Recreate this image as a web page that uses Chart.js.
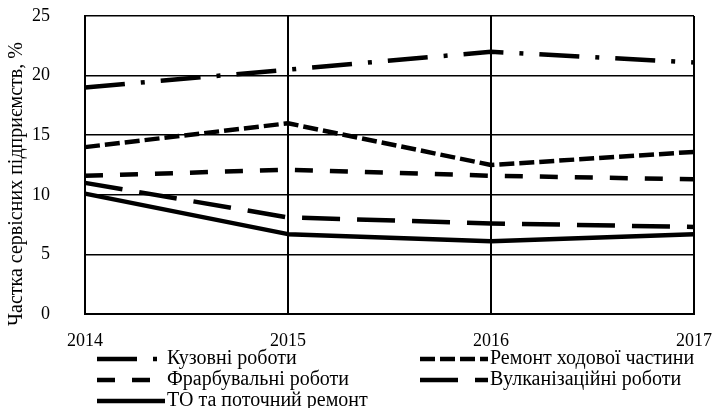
<!DOCTYPE html>
<html>
<head>
<meta charset="utf-8">
<script src="https://cdn.jsdelivr.net/npm/chart.js@4.4.0/dist/chart.umd.min.js"></script>
<style>
    html, body { margin: 0; padding: 0; background: #fff; }
    #wrap { width: 715px; height: 408px; position: relative; }
</style>
</head>
<body>
<div id="wrap"><canvas id="servicesChart"></canvas></div>
<script>
const years = ['2014', '2015', '2016', '2017'];
const yTicks = [0, 5, 10, 15, 20, 25];

const bodyWork = [19, 20.5, 22, 21.1];
const chassisRepair = [14, 16, 12.5, 13.6];
const paintWork = [11.6, 12.1, 11.6, 11.3];
const tyreWork = [11, 8.1, 7.6, 7.3];
const maintenance = [10.1, 6.7, 6.1, 6.7];

const seriesNames = [
    'Кузовні роботи',
    'Ремонт ходової частини',
    'Фрарбувальні роботи',
    'Вулканізаційні роботи',
    'ТО та поточний ремонт'
];
const yTitle = 'Частка сервісних підприємств, %';

const FONT = '"Liberation Serif", "Times New Roman", serif';

function lineSet(label, data, dash) {
    return {
        label: label,
        data: data,
        borderColor: '#000',
        borderWidth: 4.5,
        borderDash: dash,
        borderCapStyle: 'butt',
        borderJoinStyle: 'round',
        pointRadius: 0,
        fill: false,
        tension: 0
    };
}

// legend in two columns + rotated axis title, drawn by hand
const legendPlugin = {
    id: 'manualLegend',
    afterDraw(chart) {
        const ctx = chart.ctx;
        const slots = [
            { x: 97, y: 359, tx: 167 },
            { x: 420, y: 359, tx: 490 },
            { x: 97, y: 380, tx: 167 },
            { x: 420, y: 380, tx: 490 },
            { x: 97, y: 401, tx: 167 }
        ];
        ctx.save();
        chart.data.datasets.forEach(function(ds, i) {
            const s = slots[i];
            ctx.beginPath();
            ctx.setLineDash(ds.borderDash || []);
            ctx.lineWidth = ds.borderWidth;
            ctx.strokeStyle = ds.borderColor;
            ctx.moveTo(s.x, s.y);
            ctx.lineTo(s.tx - 2, s.y);
            ctx.stroke();
            ctx.setLineDash([]);
            ctx.fillStyle = '#000';
            ctx.font = '20px ' + FONT;
            ctx.textBaseline = 'middle';
            ctx.textAlign = 'left';
            ctx.fillText(ds.label, s.tx, s.y);
        });

        ctx.translate(17, 184);
        ctx.rotate(-Math.PI / 2);
        ctx.textAlign = 'center';
        ctx.textBaseline = 'middle';
        ctx.font = '20px ' + FONT;
        ctx.fillText(yTitle, 0, 0);
        ctx.restore();
    }
};

new Chart(document.getElementById('servicesChart'), {
    type: 'line',
    data: {
        labels: years,
        datasets: [
            lineSet(seriesNames[0], bodyWork, [40, 16, 4, 16]),
            lineSet(seriesNames[1], chassisRepair, [15, 5]),
            lineSet(seriesNames[2], paintWork, [18, 17]),
            lineSet(seriesNames[3], tyreWork, [38, 17]),
            lineSet(seriesNames[4], maintenance, [])
        ]
    },
    options: {
        responsive: true,
        maintainAspectRatio: false,
        animation: false,
        layout: { padding: { top: 16, right: 21, bottom: 0, left: 0 } },
        plugins: {
            legend: { display: false },
            tooltip: { enabled: false }
        },
        scales: {
            x: {
                offset: false,
                grid: { color: '#000', lineWidth: 2, drawTicks: false },
                border: { color: '#000', width: 2 },
                ticks: { color: '#000', padding: 16, maxRotation: 0, font: { family: FONT, size: 18 } },
                afterFit: function(scale) {
                    scale.height = 94;
                    scale.paddingLeft = 0;
                    scale.paddingRight = 0;
                }
            },
            y: {
                min: 0,
                max: 25,
                afterBuildTicks: function(scale) {
                    scale.ticks = yTicks.map(function(v) { return { value: v }; });
                },
                grid: { color: '#000', lineWidth: 1.5, drawTicks: false },
                border: { color: '#000', width: 2 },
                ticks: { color: '#000', padding: 35, font: { family: FONT, size: 18 } },
                afterFit: function(scale) {
                    scale.width = 85;
                    // tick padding would otherwise push the plot top down
                    scale.paddingTop = 0;
                    scale.paddingBottom = 0;
                }
            }
        }
    },
    plugins: [legendPlugin]
});
</script>
</body>
</html>
